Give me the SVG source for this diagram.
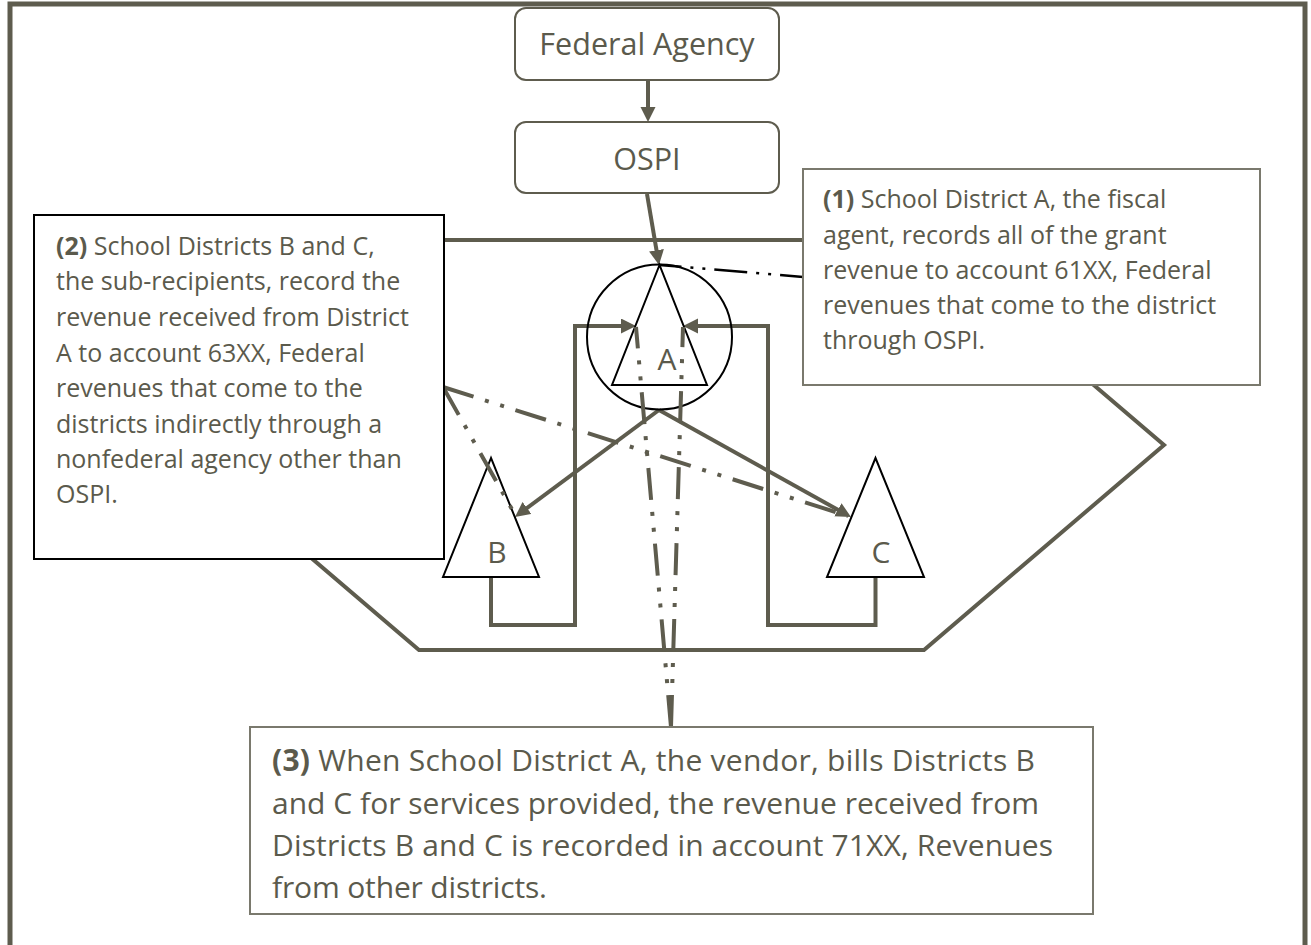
<svg xmlns="http://www.w3.org/2000/svg" width="1311" height="945" viewBox="0 0 1311 945">
<style>
.ol{fill:none;stroke:#5e5c4e;stroke-width:4}
.thin{fill:none;stroke:#000;stroke-width:2}
.ldr{fill:none;stroke:#5e5c4e;stroke-width:4;stroke-dasharray:32 12 4 12 4 12}
.t{font-family:"Open Sans","Noto Sans","Liberation Sans",sans-serif;fill:#5b5a4c}
.b{font-weight:bold}
.rbox{fill:#fff;stroke:#5e5c4e;stroke-width:2}
.cbox{fill:#fff;stroke:#7a796d;stroke-width:2}
</style>
<defs>
<marker id="ah" markerUnits="userSpaceOnUse" markerWidth="16" markerHeight="16" refX="3" refY="7.5" orient="auto">
<path d="M0,0 L15,7.5 L0,15 z" fill="#5e5c4e"/>
</marker>
</defs>
<rect x="10" y="4" width="1295" height="1000" fill="#fff" stroke="#5e5c4e" stroke-width="5"/>
<g id="frame-shape">
<polygon class="ol" points="419,240 924,240 1164,445 924,650 419,650 179,445"/>
</g>
<g id="connectors">
<path class="ol" d="M648,80 V110" marker-end="url(#ah)"/>
<path class="ol" d="M647,194 L657,253.2" marker-end="url(#ah)"/>
<path class="ol" d="M659,410 L524.6,509.8" marker-end="url(#ah)"/>
<path class="ol" d="M659,410 L840.5,511.2" marker-end="url(#ah)"/>
<path class="ol" d="M491,577 V625 H575 V326 H624" marker-end="url(#ah)"/>
<path class="ol" d="M875.5,577 V625 H768 V326 H695" marker-end="url(#ah)"/>
</g>
<g id="node-federal">
<rect class="rbox" x="515" y="8" width="264" height="72" rx="11"/>
<text class="t" x="647" y="55" font-size="30.5" text-anchor="middle">Federal Agency</text>
</g>
<g id="node-ospi">
<rect class="rbox" x="515" y="122" width="264" height="71" rx="11"/>
<text class="t" x="647" y="170" font-size="30.5" text-anchor="middle">OSPI</text>
</g>
<g id="node-a">
<circle class="thin" cx="659.5" cy="337" r="72.5"/>
<polygon class="thin" points="659.5,265 612,385 707,385"/>
<text class="t" x="667" y="370" font-size="30" text-anchor="middle">A</text>
</g>
<g id="node-b">
<polygon class="thin" points="491,458 443,577 539,577" fill="#fff"/>
<text class="t" x="497" y="563" font-size="30" text-anchor="middle">B</text>
</g>
<g id="node-c">
<polygon class="thin" points="875.5,458 827,577 924,577" fill="#fff"/>
<text class="t" x="881" y="563" font-size="30" text-anchor="middle">C</text>
</g>
<g id="leaders">
<path class="ldr" d="M671,727 L636,327"/>
<path class="ldr" d="M671,727 L683,327"/>
<path class="ldr" d="M443,387 L513,511"/>
<path class="ldr" d="M443,387 L848,516"/>
<path fill="none" stroke="#000" stroke-width="2.5" stroke-dasharray="33 9 3 9 3 9" stroke-dashoffset="10" d="M803,277 L659.5,265"/>
</g>
<g id="callout-1">
<rect class="cbox" x="803" y="169" width="457" height="216"/>
<text class="t" font-size="25">
<tspan x="823" y="208"><tspan class="b">(1)</tspan> School District A, the fiscal</tspan>
<tspan x="823" y="244">agent, records all of the grant</tspan>
<tspan x="823" y="279">revenue to account 61XX, Federal</tspan>
<tspan x="823" y="314">revenues that come to the district</tspan>
<tspan x="823" y="349">through OSPI.</tspan>
</text>
</g>
<g id="callout-2">
<rect x="34" y="215" width="410" height="344" fill="#fff" stroke="#000" stroke-width="2"/>
<text class="t" font-size="25">
<tspan x="56" y="255"><tspan class="b">(2)</tspan> School Districts B and C,</tspan>
<tspan x="56" y="290">the sub-recipients, record the</tspan>
<tspan x="56" y="326">revenue received from District</tspan>
<tspan x="56" y="362">A to account 63XX, Federal</tspan>
<tspan x="56" y="397">revenues that come to the</tspan>
<tspan x="56" y="433">districts indirectly through a</tspan>
<tspan x="56" y="468">nonfederal agency other than</tspan>
<tspan x="56" y="503">OSPI.</tspan>
</text>
</g>
<g id="callout-3">
<rect class="cbox" x="250" y="727" width="843" height="187"/>
<text class="t" font-size="30">
<tspan x="272" y="771" textLength="763"><tspan class="b">(3)</tspan> When School District A, the vendor, bills Districts B</tspan>
<tspan x="272" y="814" textLength="767">and C for services provided, the revenue received from</tspan>
<tspan x="272" y="856" textLength="781">Districts B and C is recorded in account 71XX, Revenues</tspan>
<tspan x="272" y="898" textLength="275">from other districts.</tspan>
</text>
</g>
</svg>
